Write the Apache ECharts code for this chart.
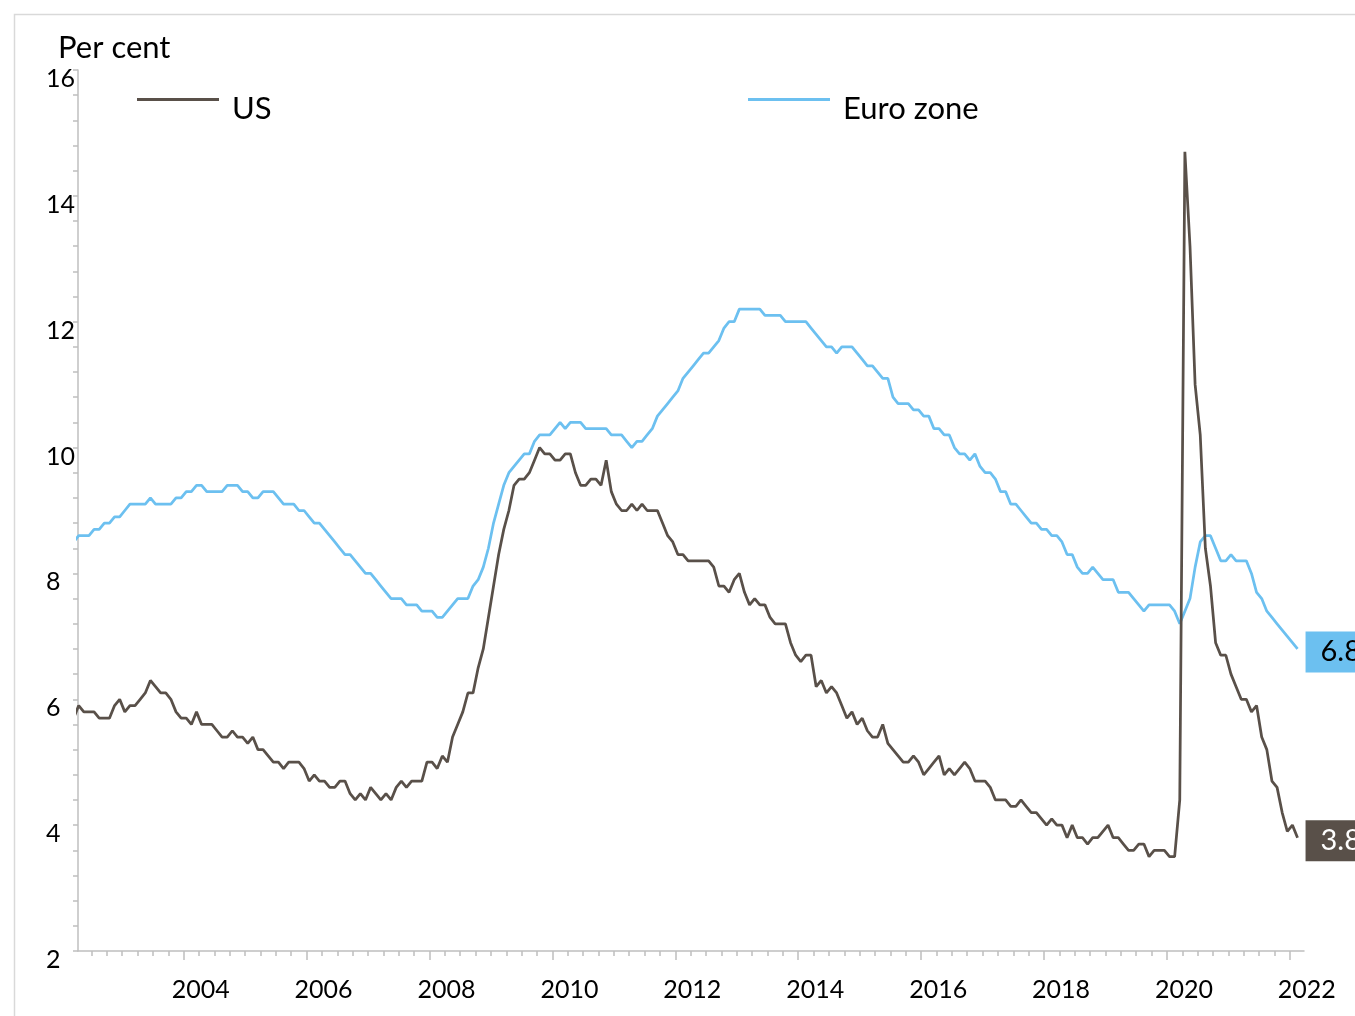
<!DOCTYPE html>
<html>
<head>
<meta charset="utf-8">
<title>Unemployment rate: US and euro zone</title>
<script src="https://cdn.jsdelivr.net/npm/echarts@6/dist/echarts.min.js"></script>
<style>
html, body { margin: 0; padding: 0; background: #fff; }
#chart { width: 1355px; height: 1016px; }
</style>
</head>
<body>
<div id="chart"></div>
<script>
// monthly unemployment rate, per cent, Mar 2002 .. Feb 2022
const startYear = 2002
const startMonth = 3
const seriesNames = ['US', 'Euro zone']

const usRate = [
    5.7, 5.9, 5.8, 5.8, 5.8, 5.7, 5.7, 5.7, 5.9, 6.0,
    5.8, 5.9, 5.9, 6.0, 6.1, 6.3, 6.2, 6.1, 6.1, 6.0, 5.8, 5.7,
    5.7, 5.6, 5.8, 5.6, 5.6, 5.6, 5.5, 5.4, 5.4, 5.5, 5.4, 5.4,
    5.3, 5.4, 5.2, 5.2, 5.1, 5.0, 5.0, 4.9, 5.0, 5.0, 5.0, 4.9,
    4.7, 4.8, 4.7, 4.7, 4.6, 4.6, 4.7, 4.7, 4.5, 4.4, 4.5, 4.4,
    4.6, 4.5, 4.4, 4.5, 4.4, 4.6, 4.7, 4.6, 4.7, 4.7, 4.7, 5.0,
    5.0, 4.9, 5.1, 5.0, 5.4, 5.6, 5.8, 6.1, 6.1, 6.5, 6.8, 7.3,
    7.8, 8.3, 8.7, 9.0, 9.4, 9.5, 9.5, 9.6, 9.8, 10.0, 9.9, 9.9,
    9.8, 9.8, 9.9, 9.9, 9.6, 9.4, 9.4, 9.5, 9.5, 9.4, 9.8, 9.3,
    9.1, 9.0, 9.0, 9.1, 9.0, 9.1, 9.0, 9.0, 9.0, 8.8, 8.6, 8.5,
    8.3, 8.3, 8.2, 8.2, 8.2, 8.2, 8.2, 8.1, 7.8, 7.8, 7.7, 7.9,
    8.0, 7.7, 7.5, 7.6, 7.5, 7.5, 7.3, 7.2, 7.2, 7.2, 6.9, 6.7,
    6.6, 6.7, 6.7, 6.2, 6.3, 6.1, 6.2, 6.1, 5.9, 5.7, 5.8, 5.6,
    5.7, 5.5, 5.4, 5.4, 5.6, 5.3, 5.2, 5.1, 5.0, 5.0, 5.1, 5.0,
    4.8, 4.9, 5.0, 5.1, 4.8, 4.9, 4.8, 4.9, 5.0, 4.9, 4.7, 4.7,
    4.7, 4.6, 4.4, 4.4, 4.4, 4.3, 4.3, 4.4, 4.3, 4.2, 4.2, 4.1,
    4.0, 4.1, 4.0, 4.0, 3.8, 4.0, 3.8, 3.8, 3.7, 3.8, 3.8, 3.9,
    4.0, 3.8, 3.8, 3.7, 3.6, 3.6, 3.7, 3.7, 3.5, 3.6, 3.6, 3.6,
    3.5, 3.5, 4.4, 14.7, 13.2, 11.0, 10.2, 8.4, 7.8, 6.9, 6.7, 6.7,
    6.4, 6.2, 6.0, 6.0, 5.8, 5.9, 5.4, 5.2, 4.7, 4.6, 4.2, 3.9,
    4.0, 3.8
]

const euroRate = [
    8.5, 8.6, 8.6, 8.6, 8.7, 8.7, 8.8, 8.8, 8.9, 8.9,
    9.0, 9.1, 9.1, 9.1, 9.1, 9.2, 9.1, 9.1, 9.1, 9.1, 9.2, 9.2,
    9.3, 9.3, 9.4, 9.4, 9.3, 9.3, 9.3, 9.3, 9.4, 9.4, 9.4, 9.3,
    9.3, 9.2, 9.2, 9.3, 9.3, 9.3, 9.2, 9.1, 9.1, 9.1, 9.0, 9.0,
    8.9, 8.8, 8.8, 8.7, 8.6, 8.5, 8.4, 8.3, 8.3, 8.2, 8.1, 8.0,
    8.0, 7.9, 7.8, 7.7, 7.6, 7.6, 7.6, 7.5, 7.5, 7.5, 7.4, 7.4,
    7.4, 7.3, 7.3, 7.4, 7.5, 7.6, 7.6, 7.6, 7.8, 7.9, 8.1, 8.4,
    8.8, 9.1, 9.4, 9.6, 9.7, 9.8, 9.9, 9.9, 10.1, 10.2, 10.2, 10.2,
    10.3, 10.4, 10.3, 10.4, 10.4, 10.4, 10.3, 10.3, 10.3, 10.3, 10.3, 10.2,
    10.2, 10.2, 10.1, 10.0, 10.1, 10.1, 10.2, 10.3, 10.5, 10.6, 10.7, 10.8,
    10.9, 11.1, 11.2, 11.3, 11.4, 11.5, 11.5, 11.6, 11.7, 11.9, 12.0, 12.0,
    12.2, 12.2, 12.2, 12.2, 12.2, 12.1, 12.1, 12.1, 12.1, 12.0, 12.0, 12.0,
    12.0, 12.0, 11.9, 11.8, 11.7, 11.6, 11.6, 11.5, 11.6, 11.6, 11.6, 11.5,
    11.4, 11.3, 11.3, 11.2, 11.1, 11.1, 10.8, 10.7, 10.7, 10.7, 10.6, 10.6,
    10.5, 10.5, 10.3, 10.3, 10.2, 10.2, 10.0, 9.9, 9.9, 9.8, 9.9, 9.7,
    9.6, 9.6, 9.5, 9.3, 9.3, 9.1, 9.1, 9.0, 8.9, 8.8, 8.8, 8.7,
    8.7, 8.6, 8.6, 8.5, 8.3, 8.3, 8.1, 8.0, 8.0, 8.1, 8.0, 7.9,
    7.9, 7.9, 7.7, 7.7, 7.7, 7.6, 7.5, 7.4, 7.5, 7.5, 7.5, 7.5,
    7.5, 7.4, 7.2, 7.4, 7.6, 8.1, 8.5, 8.6, 8.6, 8.4, 8.2, 8.2,
    8.3, 8.2, 8.2, 8.2, 8.0, 7.7, 7.6, 7.4, 7.3, 7.2, 7.1, 7.0,
    6.9, 6.8
]

const yearLabels = [2004, 2006, 2008, 2010, 2012, 2014, 2016, 2018, 2020, 2022]

// x as decimal years, each month at the middle of its slot
const monthPos = usRate.map(function (v, i) {
    const m = startMonth - 1 + i
    return startYear + Math.floor(m / 12) + ((m % 12) + 0.5) / 12
})

const xMin = 2002.28
const xMax = 2022.23

// quarterly minor ticks
const quarterTicks = []
for (let q = 2002.5; q <= 2022.01; q += 0.25) {
    quarterTicks.push(q)
}

const usColor = '#595049'
const euroColor = '#6CC0F0'
const axisColor = '#bfbfbf'
const font = 'Lato'

const chart = echarts.init(document.getElementById('chart'))

function legendFor (name, left) {
    return {
        data: [name],
        left: left,
        top: 93,
        padding: 0,
        icon: 'rect',
        itemWidth: 82,
        itemHeight: 3,
        selectedMode: false,
        formatter: '{t|{name}}',
        textStyle: {
            rich: {
                t: {
                    fontFamily: font,
                    fontSize: 31,
                    color: '#000',
                    padding: [18, 0, 0, 8]
                }
            }
        }
    }
}

function endLabel (bg, fg) {
    return {
        show: true,
        formatter: function (p) {
            return p.value[1].toFixed(1)
        },
        distance: 8,
        offset: [0, 3],
        backgroundColor: bg,
        color: fg,
        fontFamily: font,
        fontSize: 29,
        lineHeight: 29,
        padding: [6, 30, 6, 15]
    }
}

const option = {
    animation: false,
    backgroundColor: '#fff',
    graphic: [{
        type: 'rect',
        left: 12,
        top: 12,
        shape: { width: 1400, height: 1100 },
        style: { fill: 'none', stroke: '#d9d9d9', lineWidth: 1.5 },
        silent: true
    }],
    title: {
        text: 'Per cent',
        left: 58,
        top: 32,
        padding: 0,
        textStyle: {
            fontFamily: font,
            fontSize: 31,
            fontWeight: 'normal',
            color: '#000'
        }
    },
    legend: [
        legendFor(seriesNames[0], 137),
        legendFor(seriesNames[1], 748)
    ],
    grid: {
        left: 78,
        right: 51,
        top: 70,
        bottom: 65
    },
    xAxis: [
        {
            type: 'value',
            min: xMin,
            max: xMax,
            axisLine: { onZero: false, lineStyle: { color: axisColor, width: 1.5 } },
            axisTick: {
                customValues: yearLabels,
                length: 9,
                lineStyle: { color: axisColor, width: 1.5 }
            },
            axisLabel: {
                customValues: yearLabels,
                formatter: function (v) {
                    return String(Math.round(v))
                },
                fontFamily: font,
                fontSize: 25,
                color: '#000',
                margin: 26,
                padding: [0, 0, 0, 34]
            },
            splitLine: { show: false }
        },
        {
            type: 'value',
            min: xMin,
            max: xMax,
            position: 'bottom',
            axisLine: { show: false, onZero: false },
            axisTick: {
                customValues: quarterTicks,
                length: 5,
                lineStyle: { color: axisColor, width: 1.5 }
            },
            axisLabel: { show: false },
            splitLine: { show: false }
        }
    ],
    yAxis: {
        type: 'value',
        min: 2,
        max: 16,
        interval: 2,
        axisLine: { show: true, lineStyle: { color: axisColor, width: 1.5 } },
        axisTick: { show: true, length: 5, lineStyle: { color: axisColor, width: 1.5 } },
        minorTick: { show: true, splitNumber: 5, length: 5, lineStyle: { color: axisColor, width: 1.5 } },
        axisLabel: {
            fontFamily: font,
            fontSize: 25,
            color: '#000',
            align: 'left',
            verticalAlign: 'top',
            lineHeight: 18,
            margin: 32
        },
        splitLine: { show: false }
    },
    series: [
        {
            name: seriesNames[1],
            type: 'line',
            symbol: 'none',
            color: euroColor,
            lineStyle: { width: 2.75, color: euroColor },
            data: monthPos.map(function (t, i) { return [t, euroRate[i]] }),
            endLabel: endLabel(euroColor, '#000'),
            z: 2
        },
        {
            name: seriesNames[0],
            type: 'line',
            symbol: 'none',
            color: usColor,
            lineStyle: { width: 2.75, color: usColor },
            data: monthPos.map(function (t, i) { return [t, usRate[i]] }),
            endLabel: endLabel(usColor, '#fff'),
            z: 3
        }
    ]
}

chart.setOption(option)
</script>
</body>
</html>
